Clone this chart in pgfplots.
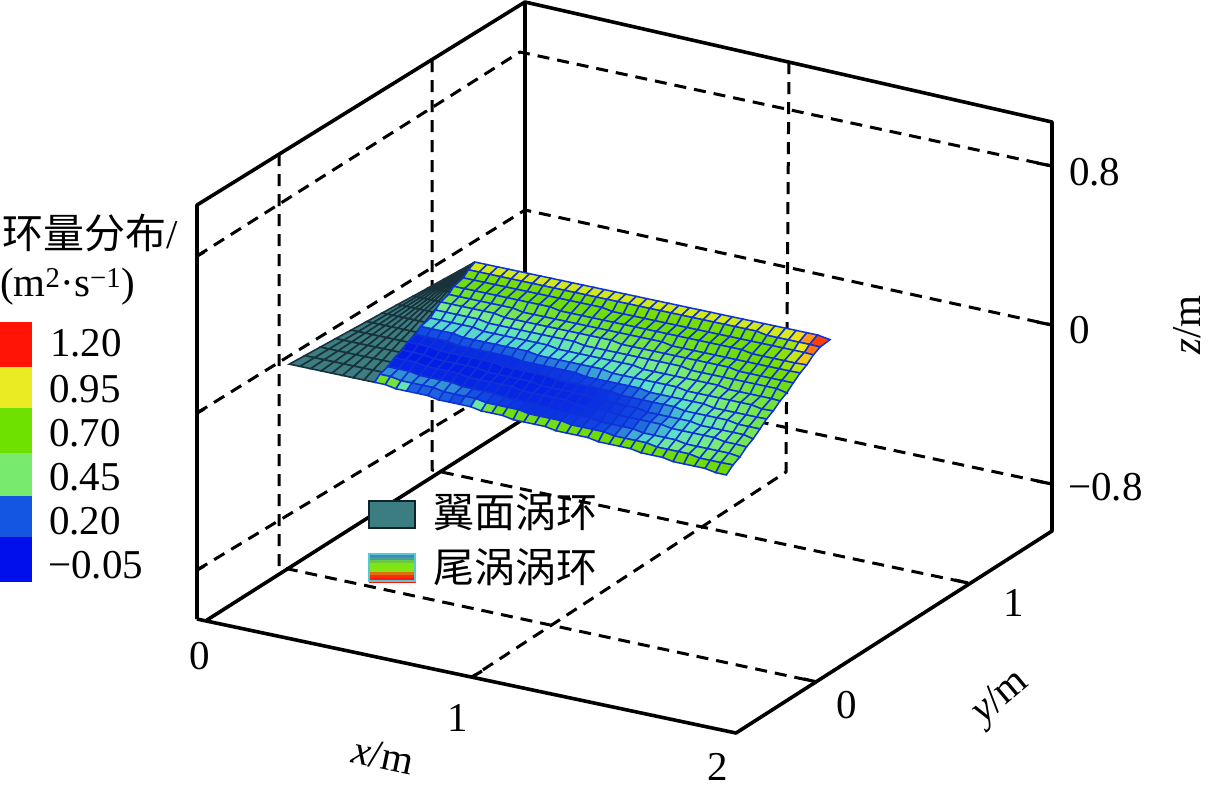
\documentclass[border=0pt]{standalone}
\usepackage{fontspec}
\usepackage{pgfplots}
\pgfplotsset{compat=1.18}
\setmainfont{Liberation Serif}
\newfontfamily\cjk{Noto Sans CJK SC}
\pgfplotsset{
  colormap={wake}{rgb255(0pt)=(0,20,230) rgb255(25pt)=(20,80,225) rgb255(40pt)=(90,225,200) rgb255(50pt)=(120,235,130) rgb255(75pt)=(110,220,0) rgb255(100pt)=(235,235,30) rgb255(110pt)=(255,150,20) rgb255(125pt)=(255,20,0)},
  colormap={wing}{rgb255=(60,125,130) rgb255=(60,125,130)},
  colormap={swatch}{rgb255(0pt)=(50,120,210) rgb255(30pt)=(125,230,20) rgb255(60pt)=(130,230,20) rgb255(90pt)=(240,90,10) rgb255(125pt)=(255,25,5)},
}
\tikzset{
  lab/.style={font=\fontsize{41}{41}\selectfont,inner sep=0pt},
  edge/.style={black,line width=3.6pt,line join=round},
  gridl/.style={black,line width=3pt,dash pattern=on 12pt off 8pt,line join=round},
  tickl/.style={black,line width=3.2pt},
}
\begin{document}
\begin{tikzpicture}
\useasboundingbox (0,0) rectangle (1213pt,-793pt);
% frame, labels and legends, in picture pixels
\begin{axis}[at={(0pt,0pt)},anchor=north west,x=1pt,y=1pt,xmin=0,xmax=1213,ymin=0,ymax=793,y dir=reverse,
  hide axis,clip=false,colormap name=wake,point meta min=-0.05,point meta max=1.2]
\addplot[edge] coordinates {(197,619)(197,205)(525,2)(1052,122)(1052,531)(736,733)(197,619)};
\addplot[edge] coordinates {(525,2)(525,418)};
\addplot[edge] coordinates {(207,620)(525,418)};
\addplot[gridl] coordinates {(197,256)(520,52)(1052,166)};
\addplot[gridl] coordinates {(197,413)(525,210)(1052,325)};
\addplot[gridl] coordinates {(197,570)(525,372)(1052,484)};
\addplot[gridl] coordinates {(279,154)(279,567)(817,682)};
\addplot[gridl] coordinates {(432,60)(432,470)(968,583)};
\addplot[gridl] coordinates {(789,62)(786,472)(472,677)};
% tick marks
\addplot[tickl] coordinates {(1037,163)(1052,166)};
\addplot[tickl] coordinates {(1037,322)(1052,325)};
\addplot[tickl] coordinates {(1037,481)(1052,484)};
\addplot[tickl] coordinates {(197,256)(204,252)};
\addplot[tickl] coordinates {(197,413)(204,409)};
\addplot[tickl] coordinates {(197,570)(204,566)};
\addplot[tickl] coordinates {(804,679)(817,682)};
\addplot[tickl] coordinates {(955,580)(968,583)};
\addplot[tickl] coordinates {(472,677)(482,671)};
% tick labels
\node[lab,anchor=west] at (axis cs:1069,172) {0.8};
\node[lab,anchor=west] at (axis cs:1069,330) {0};
\node[lab,anchor=west] at (axis cs:1068,487) {\char"2212 0.8};
\node[lab] at (axis cs:200,656) {0};
\node[lab] at (axis cs:458,718) {1};
\node[lab] at (axis cs:718,767) {2};
\node[lab] at (axis cs:847,705) {0};
\node[lab] at (axis cs:1014,603) {1};
\node[lab,rotate=-12] at (axis cs:383,756) {\textit{x}/m};
\node[lab,rotate=40] at (axis cs:1001,698) {\textit{y}/m};
\node[lab,rotate=90] at (axis cs:1187,325) {\textit{z}/m};
% colour scale
\addplot[fill={rgb,255:red,255;green,20;blue,5},draw=none] coordinates {(0,322)(32,322)(32,367)(0,367)} --cycle;
\addplot[fill={rgb,255:red,235;green,235;blue,35},draw=none] coordinates {(0,367)(32,367)(32,408)(0,408)} --cycle;
\addplot[fill={rgb,255:red,110;green,225;blue,0},draw=none] coordinates {(0,408)(32,408)(32,453)(0,453)} --cycle;
\addplot[fill={rgb,255:red,120;green,235;blue,110},draw=none] coordinates {(0,453)(32,453)(32,496)(0,496)} --cycle;
\addplot[fill={rgb,255:red,20;green,85;blue,225},draw=none] coordinates {(0,496)(32,496)(32,537)(0,537)} --cycle;
\addplot[fill={rgb,255:red,0;green,15;blue,235},draw=none] coordinates {(0,537)(32,537)(32,582)(0,582)} --cycle;
\node[lab,anchor=west] at (axis cs:2,233) {{\cjk 环量分布}/};
\node[lab,anchor=west] at (axis cs:0,287) {(m\textsuperscript{2}·s\textsuperscript{\char"2212 1})};
\node[lab,anchor=west] at (axis cs:50,343) {1.20};
\node[lab,anchor=west] at (axis cs:49,389) {0.95};
\node[lab,anchor=west] at (axis cs:49,433) {0.70};
\node[lab,anchor=west] at (axis cs:49,477) {0.45};
\node[lab,anchor=west] at (axis cs:49,521) {0.20};
\node[lab,anchor=west] at (axis cs:48,565) {\char"2212 0.05};
% legend
\addplot[fill={rgb,255:red,60;green,125;blue,130},draw={rgb,255:red,15;green,35;blue,45},line width=2.8pt] coordinates {(369,501)(415,501)(415,528)(369,528)} --cycle;
\node[lab,anchor=west,font=\fontsize{41}{41}\selectfont\cjk] at (axis cs:433,512) {翼面涡环};
\addplot[surf,shader=flat,colormap name=swatch,point meta=explicit,mesh/rows=10,mesh/cols=2] table[meta=c] {
x y c
369 554 0
415 554 0
369 557 0
415 557 0
369 560 0.1
415 560 0.1
369 563 0.25
415 563 0.25
369 566 0.3
415 566 0.3
369 569 0.4
415 569 0.4
369 572 0.6
415 572 0.6
369 575 1.0
415 575 1.0
369 578 1.2
415 578 1.2
369 582 1.2
415 582 1.2
};
\addplot[draw={rgb,255:red,85;green,200;blue,220},line width=2.4pt] coordinates {(369,554)(415,554)(415,581)(369,581)} --cycle;
\node[lab,anchor=west,font=\fontsize{41}{41}\selectfont\cjk] at (axis cs:433,567) {尾涡涡环};
\end{axis}
% wing and wake sheets, in metres
\begin{axis}[at={(284pt,-363pt)},anchor=origin,x={(266.5pt,-56.75pt)},y={(151pt,99pt)},z={(0pt,197pt)},
  xmin=0,xmax=2,ymin=-0.5,ymax=1.5,zmin=-1.05,zmax=1.05,hide axis,clip=false,
  point meta min=-0.05,point meta max=1.2]
\addplot3[surf,colormap name=wing,point meta=0,shader=faceted,faceted color={rgb,255:red,25;green,50;blue,60},line width=1.6pt,mesh/rows=13,mesh/cols=9] table {
0.02 0 0
0.06 0 0
0.10 0 0
0.14 0 0
0.18 0 0
0.22 0 0
0.26 0 0
0.30 0 0
0.34 0 0
0.027 0.09 0
0.064 0.09 0
0.100 0.09 0
0.137 0.09 0
0.173 0.09 0
0.210 0.09 0
0.247 0.09 0
0.283 0.09 0
0.320 0.09 0
0.034 0.18 0
0.067 0.18 0
0.101 0.18 0
0.134 0.18 0
0.168 0.18 0
0.201 0.18 0
0.234 0.18 0
0.268 0.18 0
0.301 0.18 0
0.041 0.27 0
0.071 0.27 0
0.101 0.27 0
0.131 0.27 0
0.161 0.27 0
0.191 0.27 0
0.221 0.27 0
0.251 0.27 0
0.281 0.27 0
0.048 0.36 0
0.075 0.36 0
0.101 0.36 0
0.128 0.36 0
0.154 0.36 0
0.181 0.36 0
0.208 0.36 0
0.234 0.36 0
0.261 0.36 0
0.055 0.45 0
0.078 0.45 0
0.102 0.45 0
0.125 0.45 0
0.149 0.45 0
0.172 0.45 0
0.195 0.45 0
0.219 0.45 0
0.242 0.45 0
0.062 0.54 0
0.082 0.54 0
0.102 0.54 0
0.122 0.54 0
0.142 0.54 0
0.162 0.54 0
0.182 0.54 0
0.202 0.54 0
0.222 0.54 0
0.069 0.63 0
0.086 0.63 0
0.102 0.63 0
0.119 0.63 0
0.136 0.63 0
0.152 0.63 0
0.169 0.63 0
0.185 0.63 0
0.202 0.63 0
0.077 0.72 0
0.090 0.72 0
0.104 0.72 0
0.117 0.72 0
0.131 0.72 0
0.144 0.72 0
0.157 0.72 0
0.171 0.72 0
0.184 0.72 0
0.084 0.81 0
0.094 0.81 0
0.104 0.81 0
0.114 0.81 0
0.124 0.81 0
0.134 0.81 0
0.144 0.81 0
0.154 0.81 0
0.164 0.81 0
0.091 0.90 0
0.098 0.90 0
0.104 0.90 0
0.111 0.90 0
0.117 0.90 0
0.124 0.90 0
0.131 0.90 0
0.137 0.90 0
0.144 0.90 0
0.098 0.99 0
0.101 0.99 0
0.105 0.99 0
0.108 0.99 0
0.112 0.99 0
0.115 0.99 0
0.118 0.99 0
0.122 0.99 0
0.125 0.99 0
0.105 1.08 0
0.105 1.08 0
0.105 1.08 0
0.105 1.08 0
0.105 1.08 0
0.105 1.08 0
0.105 1.08 0
0.105 1.08 0
0.105 1.08 0
};
\addplot3[surf,colormap name=wake,point meta=explicit,shader=faceted,faceted color={rgb,255:red,15;green,50;blue,215},line width=1.5pt,mesh/rows=16,mesh/cols=34] table[meta=c] {
x y z c
0.34 0 0 0.74
0.38 0 0 0.74
0.42 0 -0.01 0.6
0.46 0 -0.01 -0.05
0.50 0 -0.01 -0.05
0.54 0 -0.01 -0.05
0.58 0 -0.02 -0.05
0.62 0 -0.02 -0.05
0.66 0 -0.02 -0.05
0.70 0 -0.02 0.3
0.74 0 -0.03 0.8
0.78 0 -0.03 1.1
0.82 0 -0.03 1.2
0.86 0 -0.04 1.2
0.90 0 -0.04 1.2
0.94 0 -0.04 1.2
0.98 0 -0.04 1.2
1.02 0 -0.05 1.2
1.06 0 -0.05 1.2
1.10 0 -0.05 1.2
1.14 0 -0.05 1.2
1.18 0 -0.06 1.15
1.22 0 -0.06 1.1
1.26 0 -0.06 1.05
1.30 0 -0.06 1
1.34 0 -0.07 0.95
1.38 0 -0.07 0.92
1.42 0 -0.07 0.89
1.46 0 -0.08 0.87
1.50 0 -0.08 0.85
1.54 0 -0.08 0.84
1.58 0 -0.08 0.82
1.62 0 -0.09 0.81
1.66 0 -0.09 0.8
0.32 0.07 0 0.49
0.36 0.07 0 0.49
0.40 0.07 -0.01 0.49
0.44 0.07 -0.01 0.49
0.48 0.07 -0.01 0.49
0.52 0.07 -0.01 0.49
0.56 0.07 -0.02 0.49
0.60 0.07 -0.02 0.46
0.64 0.07 -0.02 0.4
0.68 0.07 -0.02 0.3
0.72 0.07 -0.03 0.23
0.76 0.07 -0.03 0.2
0.80 0.07 -0.03 0.16
0.84 0.07 -0.03 0.12
0.88 0.07 -0.04 0.1
0.92 0.07 -0.04 0.1
0.96 0.07 -0.04 0.1
1.00 0.07 -0.04 0.12
1.04 0.07 -0.05 0.14
1.08 0.07 -0.05 0.16
1.12 0.07 -0.05 0.2
1.16 0.07 -0.05 0.24
1.20 0.07 -0.06 0.28
1.24 0.07 -0.06 0.33
1.28 0.07 -0.06 0.38
1.32 0.07 -0.06 0.41
1.36 0.07 -0.07 0.44
1.40 0.07 -0.07 0.47
1.44 0.07 -0.07 0.5
1.48 0.07 -0.07 0.52
1.52 0.07 -0.08 0.54
1.56 0.07 -0.08 0.56
1.60 0.07 -0.08 0.58
1.644 0.072 -0.08 0.6
0.31 0.14 0 0.04
0.35 0.14 0 0.04
0.39 0.14 0 0.04
0.43 0.14 -0.01 0.04
0.47 0.14 -0.01 0.04
0.51 0.14 -0.01 0.04
0.55 0.14 -0.01 0.05
0.59 0.14 -0.02 0.05
0.63 0.14 -0.02 0.05
0.67 0.14 -0.02 0.05
0.71 0.14 -0.02 0.05
0.75 0.14 -0.03 0.04
0.79 0.14 -0.03 0.04
0.83 0.14 -0.03 0.04
0.87 0.14 -0.03 0.05
0.91 0.14 -0.04 0.05
0.95 0.14 -0.04 0.06
0.99 0.14 -0.04 0.07
1.03 0.14 -0.04 0.08
1.07 0.14 -0.04 0.1
1.11 0.14 -0.05 0.12
1.15 0.14 -0.05 0.15
1.19 0.14 -0.05 0.18
1.23 0.14 -0.05 0.22
1.27 0.14 -0.06 0.26
1.31 0.14 -0.06 0.3
1.35 0.14 -0.06 0.34
1.39 0.14 -0.06 0.38
1.43 0.14 -0.07 0.42
1.47 0.14 -0.07 0.44
1.51 0.14 -0.07 0.46
1.55 0.14 -0.07 0.5
1.59 0.14 -0.07 0.54
1.629 0.144 -0.08 0.58
0.29 0.22 0 0
0.33 0.22 0 0
0.37 0.22 0 0
0.41 0.22 -0.01 0
0.45 0.22 -0.01 0
0.49 0.22 -0.01 0
0.53 0.22 -0.01 0
0.57 0.22 -0.02 0
0.61 0.22 -0.02 0
0.65 0.22 -0.02 0.01
0.69 0.22 -0.02 0.02
0.73 0.22 -0.02 0.01
0.77 0.22 -0.03 0.01
0.81 0.22 -0.03 0.02
0.85 0.22 -0.03 0.02
0.89 0.22 -0.03 0.03
0.93 0.22 -0.03 0.04
0.97 0.22 -0.04 0.05
1.01 0.22 -0.04 0.06
1.05 0.22 -0.04 0.08
1.09 0.22 -0.04 0.1
1.13 0.22 -0.05 0.13
1.17 0.22 -0.05 0.16
1.21 0.22 -0.05 0.2
1.25 0.22 -0.05 0.24
1.29 0.22 -0.05 0.28
1.33 0.22 -0.06 0.32
1.37 0.22 -0.06 0.36
1.41 0.22 -0.06 0.4
1.45 0.22 -0.06 0.42
1.49 0.22 -0.06 0.44
1.53 0.22 -0.07 0.48
1.57 0.22 -0.07 0.52
1.613 0.216 -0.07 0.55
0.28 0.29 0 -0.04
0.32 0.29 0 -0.04
0.36 0.29 0 -0.04
0.40 0.29 -0.01 -0.02
0.44 0.29 -0.01 -0.02
0.48 0.29 -0.01 -0.02
0.52 0.29 -0.01 -0.02
0.56 0.29 -0.01 0
0.60 0.29 -0.02 0
0.64 0.29 -0.02 0
0.68 0.29 -0.02 0
0.72 0.29 -0.02 0
0.76 0.29 -0.02 0
0.80 0.29 -0.03 0.01
0.84 0.29 -0.03 0.01
0.88 0.29 -0.03 0.02
0.92 0.29 -0.03 0.03
0.96 0.29 -0.03 0.04
1.00 0.29 -0.04 0.05
1.04 0.29 -0.04 0.07
1.08 0.29 -0.04 0.09
1.12 0.29 -0.04 0.12
1.16 0.29 -0.04 0.15
1.20 0.29 -0.05 0.19
1.24 0.29 -0.05 0.23
1.28 0.29 -0.05 0.27
1.32 0.29 -0.05 0.31
1.36 0.29 -0.05 0.35
1.40 0.29 -0.06 0.38
1.44 0.29 -0.06 0.4
1.48 0.29 -0.06 0.42
1.52 0.29 -0.06 0.46
1.56 0.29 -0.06 0.5
1.597 0.288 -0.07 0.55
0.26 0.36 0 0
0.30 0.36 0 0
0.34 0.36 0 0
0.38 0.36 -0.01 0
0.42 0.36 -0.01 0
0.46 0.36 -0.01 0
0.50 0.36 -0.01 0
0.54 0.36 -0.01 0
0.58 0.36 -0.01 0
0.62 0.36 -0.02 0
0.66 0.36 -0.02 0
0.70 0.36 -0.02 0.01
0.74 0.36 -0.02 0.01
0.78 0.36 -0.02 0.02
0.82 0.36 -0.03 0.03
0.86 0.36 -0.03 0.04
0.90 0.36 -0.03 0.05
0.94 0.36 -0.03 0.07
0.98 0.36 -0.03 0.09
1.02 0.36 -0.03 0.11
1.06 0.36 -0.04 0.13
1.10 0.36 -0.04 0.16
1.14 0.36 -0.04 0.19
1.18 0.36 -0.04 0.23
1.22 0.36 -0.04 0.27
1.26 0.36 -0.04 0.31
1.30 0.36 -0.05 0.34
1.34 0.36 -0.05 0.37
1.38 0.36 -0.05 0.4
1.42 0.36 -0.05 0.42
1.46 0.36 -0.05 0.44
1.50 0.36 -0.06 0.48
1.54 0.36 -0.06 0.51
1.582 0.36 -0.06 0.55
0.25 0.43 0 0.04
0.29 0.43 0 0.05
0.33 0.43 0 0.06
0.37 0.43 0 0.07
0.41 0.43 -0.01 0.08
0.45 0.43 -0.01 0.09
0.49 0.43 -0.01 0.1
0.53 0.43 -0.01 0.1
0.57 0.43 -0.01 0.11
0.61 0.43 -0.01 0.12
0.65 0.43 -0.02 0.13
0.69 0.43 -0.02 0.14
0.73 0.43 -0.02 0.15
0.77 0.43 -0.02 0.16
0.81 0.43 -0.02 0.17
0.85 0.43 -0.02 0.18
0.89 0.43 -0.03 0.2
0.93 0.43 -0.03 0.22
0.97 0.43 -0.03 0.24
1.01 0.43 -0.03 0.26
1.05 0.43 -0.03 0.28
1.09 0.43 -0.03 0.3
1.13 0.43 -0.04 0.32
1.17 0.43 -0.04 0.34
1.21 0.43 -0.04 0.36
1.25 0.43 -0.04 0.39
1.29 0.43 -0.04 0.41
1.33 0.43 -0.04 0.43
1.37 0.43 -0.05 0.45
1.41 0.43 -0.05 0.47
1.45 0.43 -0.05 0.48
1.49 0.43 -0.05 0.51
1.53 0.43 -0.05 0.55
1.566 0.432 -0.05 0.58
0.23 0.5 0 0.32
0.27 0.5 0 0.32
0.31 0.5 0 0.32
0.35 0.5 0 0.32
0.39 0.5 -0.01 0.32
0.43 0.5 -0.01 0.32
0.47 0.5 -0.01 0.32
0.51 0.5 -0.01 0.32
0.55 0.5 -0.01 0.32
0.59 0.5 -0.01 0.32
0.63 0.5 -0.01 0.32
0.67 0.5 -0.02 0.33
0.71 0.5 -0.02 0.33
0.75 0.5 -0.02 0.33
0.79 0.5 -0.02 0.34
0.83 0.5 -0.02 0.34
0.87 0.5 -0.02 0.35
0.91 0.5 -0.02 0.36
0.95 0.5 -0.03 0.37
0.99 0.5 -0.03 0.37
1.03 0.5 -0.03 0.38
1.07 0.5 -0.03 0.39
1.11 0.5 -0.03 0.4
1.15 0.5 -0.03 0.42
1.19 0.5 -0.03 0.43
1.23 0.5 -0.04 0.44
1.27 0.5 -0.04 0.45
1.31 0.5 -0.04 0.46
1.35 0.5 -0.04 0.47
1.39 0.5 -0.04 0.49
1.43 0.5 -0.04 0.5
1.47 0.5 -0.04 0.53
1.51 0.5 -0.05 0.57
1.55 0.504 -0.05 0.6
0.22 0.58 0 0.36
0.26 0.58 0 0.36
0.30 0.58 0 0.36
0.34 0.58 0 0.36
0.38 0.58 0 0.36
0.42 0.58 -0.01 0.36
0.46 0.58 -0.01 0.36
0.50 0.58 -0.01 0.36
0.54 0.58 -0.01 0.36
0.58 0.58 -0.01 0.36
0.62 0.58 -0.01 0.36
0.66 0.58 -0.01 0.36
0.70 0.58 -0.02 0.37
0.74 0.58 -0.02 0.37
0.78 0.58 -0.02 0.38
0.82 0.58 -0.02 0.38
0.86 0.58 -0.02 0.39
0.90 0.58 -0.02 0.4
0.94 0.58 -0.02 0.41
0.98 0.58 -0.02 0.41
1.02 0.58 -0.03 0.42
1.06 0.58 -0.03 0.43
1.10 0.58 -0.03 0.44
1.14 0.58 -0.03 0.46
1.18 0.58 -0.03 0.47
1.22 0.58 -0.03 0.48
1.26 0.58 -0.03 0.5
1.30 0.58 -0.03 0.51
1.34 0.58 -0.04 0.53
1.38 0.58 -0.04 0.55
1.42 0.58 -0.04 0.56
1.46 0.58 -0.04 0.58
1.50 0.58 -0.04 0.6
1.535 0.576 -0.04 0.62
0.20 0.65 0 0.4
0.24 0.65 0 0.4
0.28 0.65 0 0.4
0.32 0.65 0 0.4
0.36 0.65 0 0.4
0.40 0.65 -0.01 0.4
0.44 0.65 -0.01 0.4
0.48 0.65 -0.01 0.4
0.52 0.65 -0.01 0.4
0.56 0.65 -0.01 0.4
0.60 0.65 -0.01 0.4
0.64 0.65 -0.01 0.4
0.68 0.65 -0.01 0.41
0.72 0.65 -0.01 0.41
0.76 0.65 -0.02 0.42
0.80 0.65 -0.02 0.42
0.84 0.65 -0.02 0.43
0.88 0.65 -0.02 0.44
0.92 0.65 -0.02 0.45
0.96 0.65 -0.02 0.45
1.00 0.65 -0.02 0.46
1.04 0.65 -0.02 0.47
1.08 0.65 -0.02 0.48
1.12 0.65 -0.02 0.5
1.16 0.65 -0.03 0.51
1.20 0.65 -0.03 0.52
1.24 0.65 -0.03 0.54
1.28 0.65 -0.03 0.55
1.32 0.65 -0.03 0.57
1.36 0.65 -0.03 0.58
1.40 0.65 -0.03 0.6
1.44 0.65 -0.03 0.62
1.48 0.65 -0.03 0.64
1.519 0.648 -0.04 0.65
0.18 0.72 0 0.5
0.22 0.72 0 0.5
0.26 0.72 0 0.5
0.30 0.72 0 0.5
0.34 0.72 0 0.5
0.38 0.72 0 0.5
0.42 0.72 -0.01 0.5
0.46 0.72 -0.01 0.5
0.50 0.72 -0.01 0.5
0.54 0.72 -0.01 0.5
0.58 0.72 -0.01 0.5
0.62 0.72 -0.01 0.5
0.66 0.72 -0.01 0.51
0.70 0.72 -0.01 0.51
0.74 0.72 -0.01 0.52
0.78 0.72 -0.01 0.52
0.82 0.72 -0.01 0.53
0.86 0.72 -0.02 0.54
0.90 0.72 -0.02 0.55
0.94 0.72 -0.02 0.55
0.98 0.72 -0.02 0.56
1.02 0.72 -0.02 0.57
1.06 0.72 -0.02 0.58
1.10 0.72 -0.02 0.58
1.14 0.72 -0.02 0.59
1.18 0.72 -0.02 0.6
1.22 0.72 -0.02 0.61
1.26 0.72 -0.02 0.62
1.30 0.72 -0.03 0.64
1.34 0.72 -0.03 0.65
1.38 0.72 -0.03 0.66
1.42 0.72 -0.03 0.67
1.46 0.72 -0.03 0.69
1.503 0.72 -0.03 0.7
0.17 0.79 0 0.6
0.21 0.79 0 0.6
0.25 0.79 0 0.6
0.29 0.79 0 0.6
0.33 0.79 0 0.6
0.37 0.79 0 0.6
0.41 0.79 0 0.6
0.45 0.79 -0.01 0.6
0.49 0.79 -0.01 0.6
0.53 0.79 -0.01 0.6
0.57 0.79 -0.01 0.6
0.61 0.79 -0.01 0.6
0.65 0.79 -0.01 0.6
0.69 0.79 -0.01 0.6
0.73 0.79 -0.01 0.6
0.77 0.79 -0.01 0.6
0.81 0.79 -0.01 0.6
0.85 0.79 -0.01 0.6
0.89 0.79 -0.01 0.6
0.93 0.79 -0.01 0.6
0.97 0.79 -0.01 0.6
1.01 0.79 -0.02 0.61
1.05 0.79 -0.02 0.62
1.09 0.79 -0.02 0.62
1.13 0.79 -0.02 0.63
1.17 0.79 -0.02 0.64
1.21 0.79 -0.02 0.65
1.25 0.79 -0.02 0.66
1.29 0.79 -0.02 0.67
1.33 0.79 -0.02 0.69
1.37 0.79 -0.02 0.7
1.41 0.79 -0.02 0.72
1.45 0.79 -0.02 0.76
1.488 0.792 -0.02 0.82
0.15 0.86 0 0.64
0.19 0.86 0 0.64
0.23 0.86 0 0.64
0.27 0.86 0 0.64
0.31 0.86 0 0.64
0.35 0.86 0 0.64
0.39 0.86 0 0.64
0.43 0.86 0 0.64
0.47 0.86 0 0.64
0.51 0.86 0 0.64
0.55 0.86 -0.01 0.64
0.59 0.86 -0.01 0.64
0.63 0.86 -0.01 0.64
0.67 0.86 -0.01 0.64
0.71 0.86 -0.01 0.64
0.75 0.86 -0.01 0.64
0.79 0.86 -0.01 0.64
0.83 0.86 -0.01 0.64
0.87 0.86 -0.01 0.64
0.91 0.86 -0.01 0.64
0.95 0.86 -0.01 0.64
0.99 0.86 -0.01 0.65
1.03 0.86 -0.01 0.66
1.07 0.86 -0.01 0.66
1.11 0.86 -0.01 0.67
1.15 0.86 -0.01 0.68
1.19 0.86 -0.01 0.69
1.23 0.86 -0.01 0.7
1.27 0.86 -0.02 0.7
1.31 0.86 -0.02 0.71
1.35 0.86 -0.02 0.72
1.39 0.86 -0.02 0.78
1.43 0.86 -0.02 0.9
1.472 0.864 -0.02 0.95
0.14 0.94 0 0.72
0.18 0.94 0 0.72
0.22 0.94 0 0.72
0.26 0.94 0 0.72
0.30 0.94 0 0.72
0.34 0.94 0 0.72
0.38 0.94 0 0.72
0.42 0.94 0 0.72
0.46 0.94 0 0.72
0.50 0.94 0 0.72
0.54 0.94 0 0.72
0.58 0.94 0 0.72
0.62 0.94 0 0.72
0.66 0.94 0 0.72
0.70 0.94 -0.01 0.72
0.74 0.94 -0.01 0.72
0.78 0.94 -0.01 0.72
0.82 0.94 -0.01 0.72
0.86 0.94 -0.01 0.72
0.90 0.94 -0.01 0.72
0.94 0.94 -0.01 0.72
0.98 0.94 -0.01 0.72
1.02 0.94 -0.01 0.72
1.06 0.94 -0.01 0.72
1.10 0.94 -0.01 0.72
1.14 0.94 -0.01 0.72
1.18 0.94 -0.01 0.72
1.22 0.94 -0.01 0.72
1.26 0.94 -0.01 0.72
1.30 0.94 -0.01 0.72
1.34 0.94 -0.01 0.75
1.38 0.94 -0.01 0.82
1.42 0.94 -0.01 1
1.456 0.936 -0.01 1.1
0.12 1.01 0 0.72
0.16 1.01 0 0.72
0.20 1.01 0 0.72
0.24 1.01 0 0.72
0.28 1.01 0 0.72
0.32 1.01 0 0.72
0.36 1.01 0 0.72
0.40 1.01 0 0.72
0.44 1.01 0 0.72
0.48 1.01 0 0.72
0.52 1.01 0 0.72
0.56 1.01 0 0.72
0.60 1.01 0 0.72
0.64 1.01 0 0.72
0.68 1.01 0 0.72
0.72 1.01 0 0.72
0.76 1.01 0 0.72
0.80 1.01 0 0.72
0.84 1.01 0 0.72
0.88 1.01 0 0.72
0.92 1.01 0 0.72
0.96 1.01 0 0.72
1.00 1.01 0 0.72
1.04 1.01 0 0.72
1.08 1.01 0 0.72
1.12 1.01 0 0.72
1.16 1.01 0 0.72
1.20 1.01 0 0.72
1.24 1.01 -0.01 0.72
1.28 1.01 -0.01 0.74
1.32 1.01 -0.01 0.78
1.36 1.01 -0.01 0.9
1.40 1.01 -0.01 1.05
1.441 1.008 -0.01 1.2
0.105 1.08 0 1.08
0.15 1.08 0 1.08
0.19 1.08 0 1.08
0.23 1.08 0 1.08
0.27 1.08 0 1.08
0.31 1.08 0 1.08
0.35 1.08 0 1.08
0.39 1.08 0 1.08
0.43 1.08 0 1.08
0.47 1.08 0 1.08
0.51 1.08 0 1.08
0.55 1.08 0 1.08
0.59 1.08 0 1.08
0.63 1.08 0 1.08
0.67 1.08 0 1.08
0.71 1.08 0 1.08
0.75 1.08 0 1.08
0.79 1.08 0 1.08
0.83 1.08 0 1.08
0.87 1.08 0 1.08
0.91 1.08 0 1.08
0.95 1.08 0 1.08
0.99 1.08 0 1.08
1.03 1.08 0 1.08
1.07 1.08 0 1.08
1.11 1.08 0 1.08
1.15 1.08 0 1.08
1.19 1.08 0 1.08
1.23 1.08 0 1.08
1.27 1.08 0 1.08
1.31 1.08 0 1.08
1.35 1.08 0 1.1
1.39 1.08 0 1.15
1.437 1.08 -0.01 1.2
};
\end{axis}
\end{tikzpicture}
\end{document}
